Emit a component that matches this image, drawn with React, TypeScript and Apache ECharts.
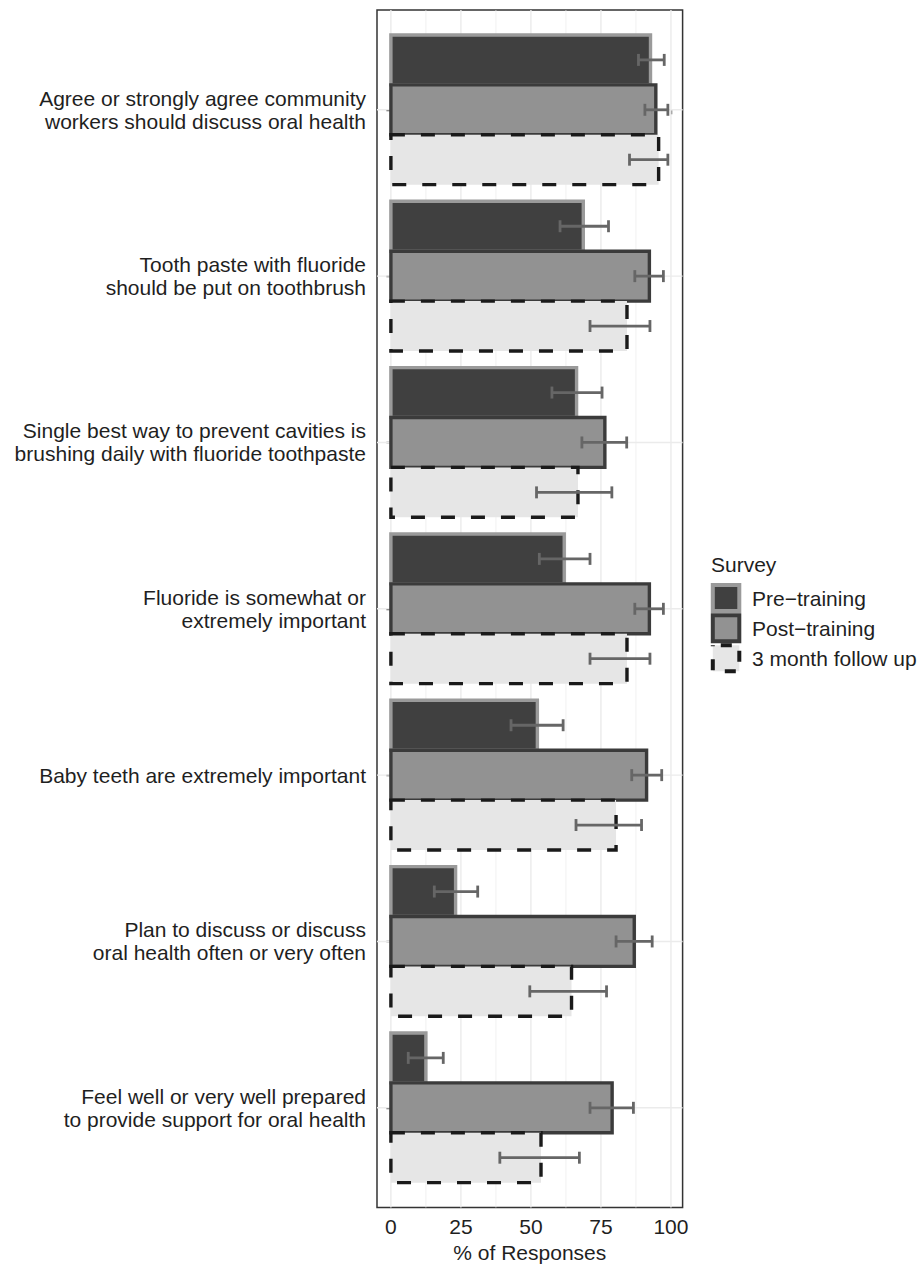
import React, { useEffect, useRef } from "react";
import * as echarts from "echarts";

const CATEGORIES = [
  "Agree or strongly agree community\nworkers should discuss oral health",
  "Tooth paste with fluoride\nshould be put on toothbrush",
  "Single best way to prevent cavities is\nbrushing daily with fluoride toothpaste",
  "Fluoride is somewhat or\nextremely important",
  "Baby teeth are extremely important",
  "Plan to discuss or discuss\noral health often or very often",
  "Feel well or very well prepared\nto provide support for oral health",
];
const GROUPS = ["Pre\u2212training", "Post\u2212training", "3 month follow up"];

const PRE = [92.7, 68.7, 66.3, 61.9, 52.3, 23.1, 12.5];
const POST = [94.6, 92.3, 76.4, 92.3, 91.3, 86.9, 79.0];
const FOLLOW = [95.6, 84.3, 66.8, 84.3, 80.4, 64.5, 53.6];
const PRE_LO = [88.4, 60.4, 57.5, 53.0, 42.9, 15.5, 6.2];
const PRE_HI = [97.6, 77.7, 75.4, 71.1, 61.5, 31.0, 18.7];
const POST_LO = [90.7, 87.1, 68.2, 87.1, 86.0, 80.4, 71.1];
const POST_HI = [98.9, 97.3, 84.2, 97.3, 96.7, 93.3, 86.6];
const FOLLOW_LO = [85.2, 71.1, 52.0, 71.1, 66.1, 49.6, 38.9];
const FOLLOW_HI = [98.9, 92.5, 78.9, 92.5, 89.5, 77.0, 67.3];

const X_TICKS = [0, 25, 50, 75, 100];
const X_MINOR = [12.5, 37.5, 62.5, 87.5];

const FONT = "'Liberation Sans', Arial, Helvetica, sans-serif";
const TEXT_COLOR = "#1f1f1f";
const BAR_W = 0.3;
const CAP = 0.072;

const STYLES = [
  { fill: "#404040", stroke: "#9a9a9a", lw: 3.4, dash: null as any },
  { fill: "#929292", stroke: "#3b3b3b", lw: 3.4, dash: null as any },
  { fill: "#e6e6e6", stroke: "#1a1a1a", lw: 3.4, dash: [14, 16] },
];

export default function App() {
  const ref = useRef<HTMLDivElement>(null);
  useEffect(() => {
    if (!ref.current) return;
    const chart = echarts.init(ref.current, undefined, { renderer: "svg" });
    const values = [PRE, POST, FOLLOW];
    const los = [PRE_LO, POST_LO, FOLLOW_LO];
    const his = [PRE_HI, POST_HI, FOLLOW_HI];
    const barData: number[][] = [];
    const errData: number[][] = [];
    CATEGORIES.forEach((_, i) => {
      for (let g = 0; g < 3; g++) {
        barData.push([values[g][i], i, g]);
        errData.push([los[g][i], i, g, his[g][i]]);
      }
    });
    const gridData: number[][] = [];
    X_TICKS.forEach((v) => gridData.push([v, 0, 0]));
    X_MINOR.forEach((v) => gridData.push([v, 0, 1]));
    CATEGORIES.forEach((_, i) => gridData.push([0, i, 2]));

    const yMin = -0.6;
    const yMax = 6.6;
    const xMin = -4.96;
    const xMax = 104.16;

    const legendChildren: any[] = [
      {
        type: "text",
        x: 711,
        y: 564,
        style: { text: "Survey", fill: TEXT_COLOR, font: `21px ${FONT}`, align: "left", verticalAlign: "middle" },
      },
    ];
    const keyY = [598, 628.3, 658.3];
    GROUPS.forEach((name, g) => {
      const st = STYLES[g];
      legendChildren.push({
        type: "rect",
        shape: { x: 712.8, y: keyY[g] - 13, width: 26.5, height: 26 },
        style: {
          fill: st.fill,
          stroke: st.stroke,
          lineWidth: 4,
          lineDash: st.dash ? [11, 13] : null,
          lineDashOffset: st.dash ? -8 : 0,
        },
      });
      legendChildren.push({
        type: "text",
        x: 752,
        y: keyY[g],
        style: { text: name, fill: TEXT_COLOR, font: `21px ${FONT}`, align: "left", verticalAlign: "middle" },
      });
    });

    chart.setOption({
      animation: false,
      backgroundColor: "#ffffff",
      grid: {
        left: 377,
        right: 918 - 682.6,
        top: 10,
        bottom: 1268 - 1217,
        show: true,
        backgroundColor: "#ffffff",
        borderColor: "#333333",
        borderWidth: 1.5,
      },
      xAxis: {
        type: "value",
        min: xMin,
        max: xMax,
        splitLine: { show: false },
        axisLine: { show: false },
        axisTick: {
          show: true,
          customValues: X_TICKS,
          length: 4.5,
          lineStyle: { color: "#333333", width: 1.4 },
        },
        axisLabel: {
          customValues: X_TICKS,
          fontSize: 21,
          fontFamily: FONT,
          color: TEXT_COLOR,
          margin: 8.5,
        },
        name: "% of Responses",
        nameLocation: "middle",
        nameGap: 31,
        nameTextStyle: { fontSize: 21, fontFamily: FONT, color: TEXT_COLOR },
      },
      yAxis: {
        type: "value",
        min: yMin,
        max: yMax,
        inverse: true,
        splitLine: { show: false },
        axisLine: { show: false },
        axisTick: {
          show: true,
          customValues: CATEGORIES.map((_, i) => i),
          length: 4.5,
          lineStyle: { color: "#333333", width: 1.4 },
        },
        axisLabel: {
          customValues: CATEGORIES.map((_, i) => i),
          formatter: (v: number) => CATEGORIES[Math.round(v)] ?? "",
          fontSize: 21,
          lineHeight: 23,
          fontFamily: FONT,
          color: TEXT_COLOR,
          margin: 11,
          align: "right",
        },
      },
      graphic: legendChildren,
      series: [
        {
          type: "custom",
          name: "grid",
          z: 1,
          silent: true,
          encode: { x: 0, y: 1 },
          data: gridData,
          renderItem: (_p: any, api: any) => {
            const kind = api.value(2);
            if (kind === 2) {
              const y = api.value(1);
              const a = api.coord([xMin, y]);
              const b = api.coord([xMax, y]);
              return {
                type: "line",
                shape: { x1: a[0], y1: a[1], x2: b[0], y2: b[1] },
                style: { stroke: "#ebebeb", lineWidth: 1.4 },
              };
            }
            const x = api.value(0);
            const a = api.coord([x, yMin]);
            const b = api.coord([x, yMax]);
            return {
              type: "line",
              shape: { x1: a[0], y1: a[1], x2: b[0], y2: b[1] },
              style: { stroke: "#ebebeb", lineWidth: kind === 0 ? 1.4 : 0.7 },
            };
          },
        },
        {
          type: "custom",
          name: "bars",
          z: 2,
          encode: { x: 0, y: 1 },
          data: barData,
          renderItem: (_p: any, api: any) => {
            const v = api.value(0);
            const cat = api.value(1);
            const g = api.value(2);
            const yc = cat + (g - 1) * BAR_W;
            const p0 = api.coord([0, yc - BAR_W / 2]);
            const p1 = api.coord([v, yc + BAR_W / 2]);
            const st = STYLES[g];
            return {
              type: "rect",
              shape: {
                x: Math.min(p0[0], p1[0]),
                y: Math.min(p0[1], p1[1]),
                width: Math.abs(p1[0] - p0[0]),
                height: Math.abs(p1[1] - p0[1]),
              },
              style: { fill: st.fill, stroke: st.stroke, lineWidth: st.lw, lineDash: st.dash },
            };
          },
        },
        {
          type: "custom",
          name: "errors",
          z: 3,
          encode: { x: 0, y: 1 },
          data: errData,
          renderItem: (_p: any, api: any) => {
            const lo = api.value(0);
            const cat = api.value(1);
            const g = api.value(2);
            const hi = api.value(3);
            const yc = cat + (g - 1) * BAR_W;
            const a = api.coord([lo, yc]);
            const b = api.coord([hi, yc]);
            const a1 = api.coord([lo, yc - CAP / 2]);
            const a2 = api.coord([lo, yc + CAP / 2]);
            const b1 = api.coord([hi, yc - CAP / 2]);
            const b2 = api.coord([hi, yc + CAP / 2]);
            const style = { stroke: "#666666", lineWidth: 2.8 };
            return {
              type: "group",
              children: [
                { type: "line", shape: { x1: a[0], y1: a[1], x2: b[0], y2: b[1] }, style },
                { type: "line", shape: { x1: a1[0], y1: a1[1], x2: a2[0], y2: a2[1] }, style },
                { type: "line", shape: { x1: b1[0], y1: b1[1], x2: b2[0], y2: b2[1] }, style },
              ],
            };
          },
        },
      ],
    });
    return () => chart.dispose();
  }, []);
  return (
    <div
      ref={ref}
      style={{ position: "fixed", left: 0, top: 0, width: 918, height: 1268, background: "#fff" }}
    />
  );
}
